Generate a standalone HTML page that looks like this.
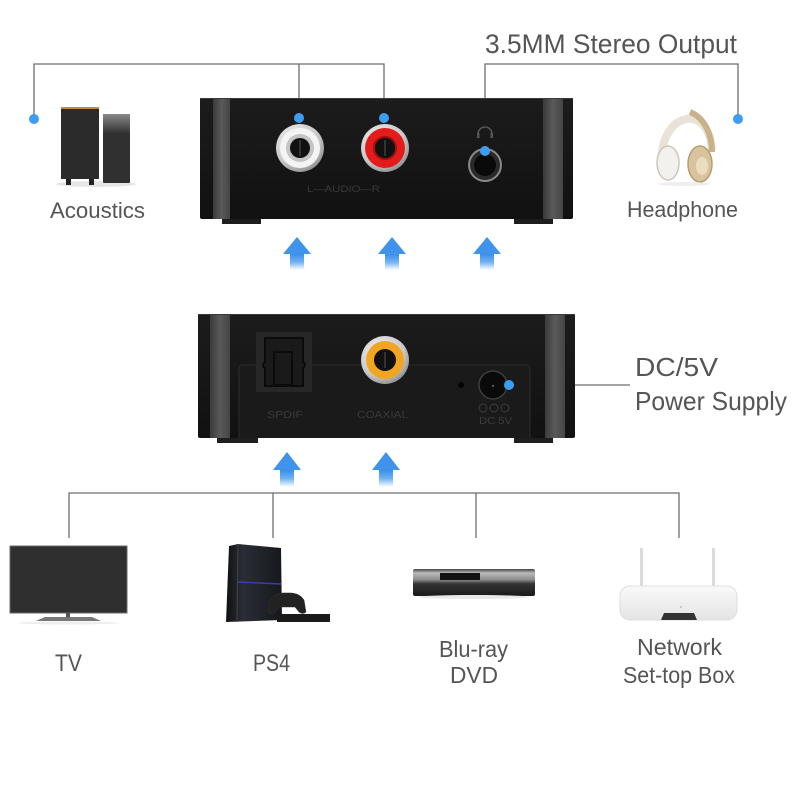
<!DOCTYPE html>
<html><head><meta charset="utf-8"><style>
html,body{margin:0;padding:0;background:#fff;width:800px;height:800px;overflow:hidden}
svg{display:block}
text{font-family:"Liberation Sans",sans-serif}
</style></head><body>
<svg width="800" height="800" viewBox="0 0 800 800" xmlns="http://www.w3.org/2000/svg">
<defs>
<linearGradient id="arr" x1="0" y1="0" x2="0" y2="1">
<stop offset="0" stop-color="#3b8fe9"/><stop offset="0.5" stop-color="#6fb2f2"/><stop offset="1" stop-color="#ffffff"/>
</linearGradient>
<linearGradient id="stripe" x1="0" y1="0" x2="1" y2="0">
<stop offset="0" stop-color="#3a3a3a"/><stop offset="0.5" stop-color="#5a5a5a"/><stop offset="1" stop-color="#444"/>
</linearGradient>
<linearGradient id="body" x1="0" y1="0" x2="0" y2="1">
<stop offset="0" stop-color="#1c1c1c"/><stop offset="1" stop-color="#111"/>
</linearGradient>
<radialGradient id="silver" cx="0.4" cy="0.35" r="0.7">
<stop offset="0" stop-color="#fafafa"/><stop offset="0.7" stop-color="#c8c8c8"/><stop offset="1" stop-color="#8a8a8a"/>
</radialGradient>
<linearGradient id="spk" x1="0" y1="0" x2="0" y2="1">
<stop offset="0" stop-color="#8a8a8a"/><stop offset="1" stop-color="#2f2f2f"/>
</linearGradient>
<linearGradient id="bluray" x1="0" y1="0" x2="0" y2="1">
<stop offset="0" stop-color="#444"/><stop offset="0.15" stop-color="#bbb"/><stop offset="0.4" stop-color="#8a8a8a"/><stop offset="0.55" stop-color="#333"/><stop offset="1" stop-color="#1a1a1a"/>
</linearGradient>
<linearGradient id="router" x1="0" y1="0" x2="0" y2="1">
<stop offset="0" stop-color="#fafafa"/><stop offset="1" stop-color="#e4e4e4"/>
</linearGradient>
<linearGradient id="ps4" x1="0" y1="0" x2="1" y2="0">
<stop offset="0" stop-color="#111"/><stop offset="0.3" stop-color="#2a2d36"/><stop offset="1" stop-color="#16181d"/>
</linearGradient>
</defs>

<!-- connector lines top -->
<g stroke="#6e6e6e" stroke-width="1.3" fill="none">
<polyline points="34,119 34,64 384,64 384,118"/>
<line x1="299" y1="64" x2="299" y2="118"/>
<polyline points="485,151 485,64 738,64 738,119"/>
<line x1="509" y1="385" x2="630" y2="385"/>
<polyline points="69,538 69,493 679,493 679,538"/>
<line x1="273" y1="493" x2="273" y2="538"/>
<line x1="476" y1="493" x2="476" y2="538"/>
</g>

<!-- TOP DEVICE -->
<rect x="222" y="216" width="39" height="8" fill="#1e1e1e"/>
<rect x="514" y="216" width="39" height="8" fill="#1e1e1e"/>
<rect x="200" y="98" width="373" height="121" rx="2" fill="url(#body)"/>
<rect x="213" y="98" width="17" height="121" fill="url(#stripe)"/>
<rect x="543" y="98" width="20" height="121" fill="url(#stripe)"/>
<line x1="200" y1="98.5" x2="573" y2="98.5" stroke="#3a3a3a" stroke-width="1"/>
<!-- white RCA -->
<circle cx="300" cy="148" r="24" fill="url(#silver)"/>
<circle cx="300" cy="148" r="20" fill="#f4f4f4"/>
<circle cx="300" cy="148" r="14" fill="#c4c4c4"/>
<circle cx="300" cy="148" r="10" fill="#111"/>
<rect x="299" y="140" width="2" height="16" fill="#333"/>
<!-- red RCA -->
<circle cx="385" cy="148" r="24" fill="url(#silver)"/>
<circle cx="385" cy="148" r="20" fill="#e31b1b"/>
<circle cx="385" cy="148" r="12" fill="#9a1010"/>
<circle cx="385" cy="148" r="10" fill="#111"/>
<rect x="384" y="140" width="2" height="16" fill="#333"/>
<text x="307" y="192" font-size="9" fill="#3a3a3a" textLength="73" lengthAdjust="spacingAndGlyphs">L—AUDIO—R</text>
<!-- headphone jack -->
<path d="M478,134 a7,7 0 0 1 14,0" stroke="#555" stroke-width="1.5" fill="none"/>
<rect x="477" y="133" width="2.5" height="5" fill="#555"/><rect x="490.5" y="133" width="2.5" height="5" fill="#555"/>
<circle cx="485" cy="165" r="17" fill="#8a8a8a"/>
<circle cx="485" cy="165" r="15" fill="#2a2a2a"/>
<circle cx="485" cy="165" r="11" fill="#0a0a0a"/>

<!-- LOWER DEVICE -->
<rect x="217" y="435" width="41" height="8" fill="#1e1e1e"/>
<rect x="514" y="435" width="39" height="8" fill="#1e1e1e"/>
<rect x="198" y="314" width="377" height="124" rx="2" fill="url(#body)"/>
<rect x="210" y="314" width="20" height="124" fill="url(#stripe)"/>
<rect x="545" y="314" width="20" height="124" fill="url(#stripe)"/>
<line x1="198" y1="314.5" x2="575" y2="314.5" stroke="#3a3a3a" stroke-width="1"/>
<path d="M239,438 V369 q0,-4 4,-4 H526 q4,0 4,4 V438" fill="#1a1a1a" stroke="#2c2c2c" stroke-width="1"/>
<!-- SPDIF -->
<rect x="256" y="332" width="56" height="60" fill="#272727"/>
<path d="M265,338 H303 V362 q4,2 0,6 V386 H265 V368 q-4,-2 0,-6 Z" fill="#1a1a1a" stroke="#0b0b0b" stroke-width="2"/>
<rect x="274" y="352" width="18" height="33" fill="none" stroke="#0b0b0b" stroke-width="2"/>
<!-- coax -->
<circle cx="385" cy="360" r="24" fill="url(#silver)"/>
<circle cx="385" cy="360" r="19" fill="#f1a623"/>
<circle cx="385" cy="360" r="11" fill="#111"/>
<rect x="384" y="352" width="2" height="16" fill="#333"/>
<!-- LED & DC -->
<circle cx="461" cy="385" r="3" fill="#050505"/>
<circle cx="493" cy="385" r="14" fill="#0a0a0a" stroke="#3e3e3e" stroke-width="1.5"/>
<circle cx="493" cy="386" r="1.2" fill="#555"/>
<g fill="none" stroke="#3c3c3c" stroke-width="1"><circle cx="483" cy="408" r="4"/><circle cx="494" cy="408" r="4"/><circle cx="505" cy="408" r="4"/></g>
<text x="479" y="424" font-size="10" fill="#3c3c3c" textLength="33" lengthAdjust="spacingAndGlyphs">DC 5V</text>
<text x="267" y="418" font-size="10" fill="#393939" textLength="36" lengthAdjust="spacingAndGlyphs">SPDIF</text>
<text x="357" y="418" font-size="10" fill="#393939" textLength="51" lengthAdjust="spacingAndGlyphs">COAXIAL</text>

<!-- blue dots -->
<g fill="#3d9df0">
<circle cx="34" cy="119" r="5"/><circle cx="299" cy="118" r="5"/><circle cx="384" cy="118" r="5"/>
<circle cx="485" cy="151" r="5"/><circle cx="738" cy="119" r="5"/><circle cx="509" cy="385" r="5"/>
</g>

<!-- arrows -->
<g>
<polygon points="297,237 283,254 311,254" fill="#3f93ea"/><rect x="290" y="254" width="14" height="16" fill="url(#arr)"/>
<polygon points="392,237 378,254 406,254" fill="#3f93ea"/><rect x="385" y="254" width="14" height="16" fill="url(#arr)"/>
<polygon points="487,237 473,254 501,254" fill="#3f93ea"/><rect x="480" y="254" width="14" height="16" fill="url(#arr)"/>
<polygon points="287,452 273,470 301,470" fill="#3f93ea"/><rect x="280" y="470" width="14" height="17" fill="url(#arr)"/>
<polygon points="386,452 372,470 400,470" fill="#3f93ea"/><rect x="379" y="470" width="14" height="17" fill="url(#arr)"/>
</g>

<!-- speakers -->
<ellipse cx="96" cy="184" rx="40" ry="3" fill="#e6e6e6"/>
<rect x="61" y="108" width="38" height="71" fill="#2b2b2b"/>
<rect x="61" y="107" width="38" height="2" fill="#c08a45"/>
<rect x="66" y="179" width="5" height="6" fill="#222"/><rect x="89" y="179" width="5" height="6" fill="#222"/>
<rect x="103" y="114" width="27" height="69" rx="1" fill="#303030"/>
<rect x="103" y="114" width="27" height="20" fill="url(#spk)"/>

<!-- headphone -->
<path d="M662,160 C660,115 708,100 712,150" stroke="#e8e2d8" stroke-width="8" fill="none"/>
<path d="M690,112 C705,118 712,135 712,152" stroke="#c9b28a" stroke-width="6" fill="none"/>
<ellipse cx="668" cy="163" rx="11" ry="17" fill="#f3f1ed" stroke="#cfc6b8" stroke-width="1.5"/>
<ellipse cx="700" cy="164" rx="12" ry="18" fill="#d8c39c" stroke="#b79e72" stroke-width="1.5"/>
<ellipse cx="702" cy="166" rx="6" ry="9" fill="#e9dcc0"/>
<ellipse cx="684" cy="184" rx="26" ry="2" fill="#eee"/>

<!-- TV -->
<rect x="10" y="546" width="117" height="67" fill="#2f2f2f" stroke="#6a6a6a" stroke-width="1"/>
<rect x="66" y="613" width="4" height="5" fill="#555"/>
<path d="M36,621 L45,617 H92 L101,621 Z" fill="#777"/>
<ellipse cx="68" cy="623" rx="50" ry="1.5" fill="#eee"/>

<!-- PS4 -->
<polygon points="229,546 238,544 281,548 282,620 226,622" fill="url(#ps4)"/>
<line x1="238" y1="544" x2="237" y2="622" stroke="#444" stroke-width="1"/>
<line x1="238" y1="582" x2="281" y2="584" stroke="#3b3bb0" stroke-width="1.5"/>
<path d="M270,600 q5,-8 17,-7 q12,-1 17,7 l2,12 q-3,3 -7,0 l-4,-5 h-16 l-4,5 q-4,3 -7,0 Z" fill="#222" stroke="#333" stroke-width="0.5"/>
<rect x="277" y="614" width="53" height="8" fill="#1a1a1a"/>

<!-- Blu-ray -->
<rect x="413" y="569" width="122" height="27" rx="2" fill="url(#bluray)"/>
<rect x="440" y="573" width="40" height="7" fill="#111"/>
<ellipse cx="474" cy="597" rx="55" ry="2" fill="#e8e8e8"/>

<!-- Router -->
<rect x="640" y="548" width="3" height="40" fill="#dcdcdc"/>
<rect x="712" y="548" width="3" height="40" fill="#dcdcdc"/>
<rect x="620" y="586" width="117" height="34" rx="10" fill="url(#router)" stroke="#dedede" stroke-width="1"/>
<path d="M661,620 l3,-7 h30 l3,7 Z" fill="#333"/>
<circle cx="681" cy="607" r="1" fill="#bbb"/>

<!-- labels -->
<g fill="#555">
<text x="485" y="53" font-size="27" textLength="252" lengthAdjust="spacingAndGlyphs">3.5MM Stereo Output</text>
<text x="50" y="218" font-size="22" textLength="95" lengthAdjust="spacingAndGlyphs">Acoustics</text>
<text x="627" y="217" font-size="22" textLength="111" lengthAdjust="spacingAndGlyphs">Headphone</text>
<text x="635" y="376" font-size="26" textLength="83" lengthAdjust="spacingAndGlyphs">DC/5V</text>
<text x="635" y="410" font-size="26" textLength="152" lengthAdjust="spacingAndGlyphs">Power Supply</text>
<text x="55" y="671" font-size="24" textLength="27" lengthAdjust="spacingAndGlyphs">TV</text>
<text x="253" y="671" font-size="24" textLength="37" lengthAdjust="spacingAndGlyphs">PS4</text>
<text x="439" y="657" font-size="23" textLength="69" lengthAdjust="spacingAndGlyphs">Blu-ray</text>
<text x="450" y="683" font-size="23" textLength="48" lengthAdjust="spacingAndGlyphs">DVD</text>
<text x="637" y="655" font-size="23" textLength="85" lengthAdjust="spacingAndGlyphs">Network</text>
<text x="623" y="683" font-size="23" textLength="112" lengthAdjust="spacingAndGlyphs">Set-top Box</text>
</g>
</svg>
</body></html>
